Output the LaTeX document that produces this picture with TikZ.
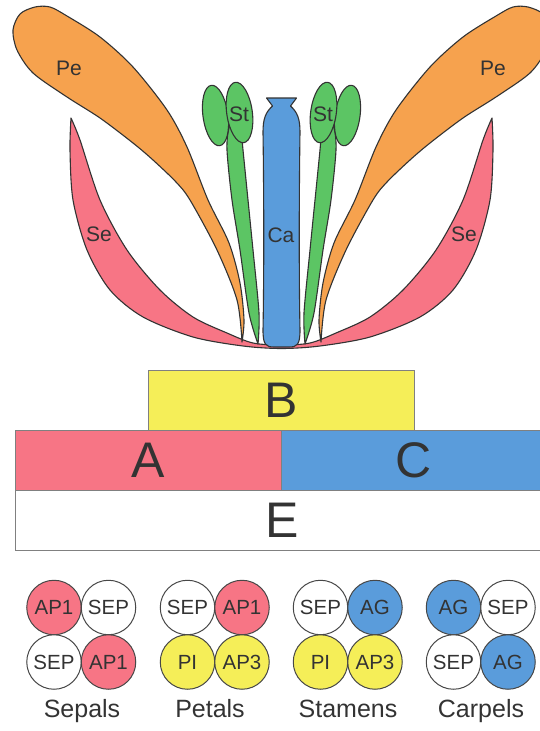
\documentclass[tikz,border=0pt]{standalone}
\usepackage{fontspec}
\setmainfont{Liberation Sans}
\usepackage{xcolor}
\usetikzlibrary{positioning}

\definecolor{sepred}{HTML}{F77585}
\definecolor{petorange}{HTML}{F6A24E}
\definecolor{stamgreen}{HTML}{5CC564}
\definecolor{carpblue}{HTML}{5A9CDB}
\definecolor{byellow}{HTML}{F5EE58}
\definecolor{ink}{HTML}{333333}

% one petal, tip at the receptacle, drawn for the left side
\newcommand{\petalshape}{plot[smooth] coordinates {(242,342) (237,300) (217,250) (190,200) (176,182) (153,160) (133,143) (100,118) (67,97) (33,73) (17,50) (13,30) (20,14) (35,7) (50,7) (67,16) (100,37) (133,67) (167,110) (187,147) (208,200) (229,243) (240,283) (244,320) (242,342)} -- cycle}
% one filament
\newcommand{\filamentshape}{plot[smooth] coordinates {(258,344) (249,313) (240,250) (232,200) (227,150) (229,128) (235,122) (241,130) (243,150) (248,200) (253,250) (259,313) (258,344)} -- cycle}

\begin{document}
\begin{tikzpicture}[x=1pt, y=-1pt,
    organ/.style={draw=ink, line width=1.1pt, line join=round},
    tag/.style={text=ink, font=\fontsize{21}{21}\selectfont, inner sep=0pt},
    block/.style={rectangle, draw=gray, line width=1pt, minimum width=266pt, minimum height=60pt, inner sep=0pt, outer sep=0pt, text=ink, font=\fontsize{50}{50}\selectfont},
    gene/.style={circle, draw=ink!90, line width=1pt, minimum size=54.5pt, inner sep=0pt, outer sep=0pt, text=ink, font=\fontsize{20.5}{20.5}\selectfont},
    whorl/.style={text=ink, font=\fontsize{25}{25}\selectfont, anchor=base}
]
    \useasboundingbox (0,0) rectangle (539,731);

    % sepals: one band across the base
    \draw[organ, fill=sepred] plot[smooth] coordinates {(71,118) (70,150) (73,200) (87,250) (110,290) (143,317) (193,337) (243,346) (281.5,348.5) (320,346) (370,337) (420,317) (453,290) (476,250) (490,200) (493,150) (492,118)}
        -- plot[smooth] coordinates {(492,118) (483,140) (463,200) (436,250) (403,290) (370,317) (336,333) (310,343) (281.5,345) (253,343) (227,333) (193,317) (160,290) (127,250) (100,200) (80,140) (71,118)} -- cycle;

    % petals
    \draw[organ, fill=petorange] \petalshape;
    \begin{scope}[xshift=563pt, xscale=-1]
        \draw[organ, fill=petorange] \petalshape;
    \end{scope}

    % stamens, anthers leaning in a little
    \draw[organ, fill=stamgreen] \filamentshape;
    \draw[organ, fill=stamgreen, rotate around={8:(215.5,115.5)}] (215.5,115.5) ellipse [x radius=12.5pt, y radius=30.5pt];
    \draw[organ, fill=stamgreen, rotate around={8:(239.5,112.5)}] (239.5,112.5) ellipse [x radius=12.8pt, y radius=30.5pt];
    \begin{scope}[xshift=563pt, xscale=-1]
        \draw[organ, fill=stamgreen] \filamentshape;
        \draw[organ, fill=stamgreen, rotate around={8:(215.5,115.5)}] (215.5,115.5) ellipse [x radius=12.5pt, y radius=30.5pt];
        \draw[organ, fill=stamgreen, rotate around={8:(239.5,112.5)}] (239.5,112.5) ellipse [x radius=12.8pt, y radius=30.5pt];
    \end{scope}

    % carpel
    \draw[organ, fill=carpblue] (266.5,98) -- (296.5,98) -- (290.5,106)
        .. controls (297,112) and (300,118) .. (300,132)
        .. controls (299,200) and (299,280) .. (300,330)
        .. controls (300,345) and (297,347) .. (289,347) -- (274,347)
        .. controls (266,347) and (263,345) .. (263,330)
        .. controls (264,280) and (264,200) .. (263,132)
        .. controls (263,118) and (266,112) .. (272.5,106) -- cycle;

    \node[tag] (peL) at (69,68) {Pe};
    \node[tag] (peR) at (493,68) {Pe};
    \node[tag] (seL) at (99,234) {Se};
    \node[tag] (seR) at (464,234) {Se};
    \node[tag] (stL) at (239,114) {St};
    \node[tag] (stR) at (323,114) {St};
    \node[tag] (ca) at (281,235) {Ca};

    % ABC(E) classes
    \node[block, fill=byellow] (B) at (281,400) {B};
    \node[block, fill=sepred, below left=0pt and 0pt of B.south] (A) {A};
    \node[block, fill=carpblue, below right=0pt and 0pt of B.south] (C) {C};
    \node[block, fill=white, minimum width=534pt, below right=0pt and 0pt of A.south west] (E) {E};

    % gene combinations per whorl
    \node[gene, fill=sepred] (sepTL) at (54,607.5) {AP1};
    \node[gene, fill=white, right=0pt of sepTL] (sepTR) {SEP};
    \node[gene, fill=white, below=0pt of sepTL] (sepBL) {SEP};
    \node[gene, fill=sepred, right=0pt of sepBL] (sepBR) {AP1};

    \node[gene, fill=white] (petTL) at (187.5,607.5) {SEP};
    \node[gene, fill=sepred, right=0pt of petTL] (petTR) {AP1};
    \node[gene, fill=byellow, below=0pt of petTL] (petBL) {PI};
    \node[gene, fill=byellow, right=0pt of petBL] (petBR) {AP3};

    \node[gene, fill=white] (staTL) at (320.5,607.5) {SEP};
    \node[gene, fill=carpblue, right=0pt of staTL] (staTR) {AG};
    \node[gene, fill=byellow, below=0pt of staTL] (staBL) {PI};
    \node[gene, fill=byellow, right=0pt of staBL] (staBR) {AP3};

    \node[gene, fill=carpblue] (carTL) at (453.5,607.5) {AG};
    \node[gene, fill=white, right=0pt of carTL] (carTR) {SEP};
    \node[gene, fill=white, below=0pt of carTL] (carBL) {SEP};
    \node[gene, fill=carpblue, right=0pt of carBL] (carBR) {AG};

    \node[whorl] (sepals) at (82,717) {Sepals};
    \node[whorl] (petals) at (210,717) {Petals};
    \node[whorl] (stamens) at (348,717) {Stamens};
    \node[whorl] (carpels) at (481,717) {Carpels};
\end{tikzpicture}
\end{document}
